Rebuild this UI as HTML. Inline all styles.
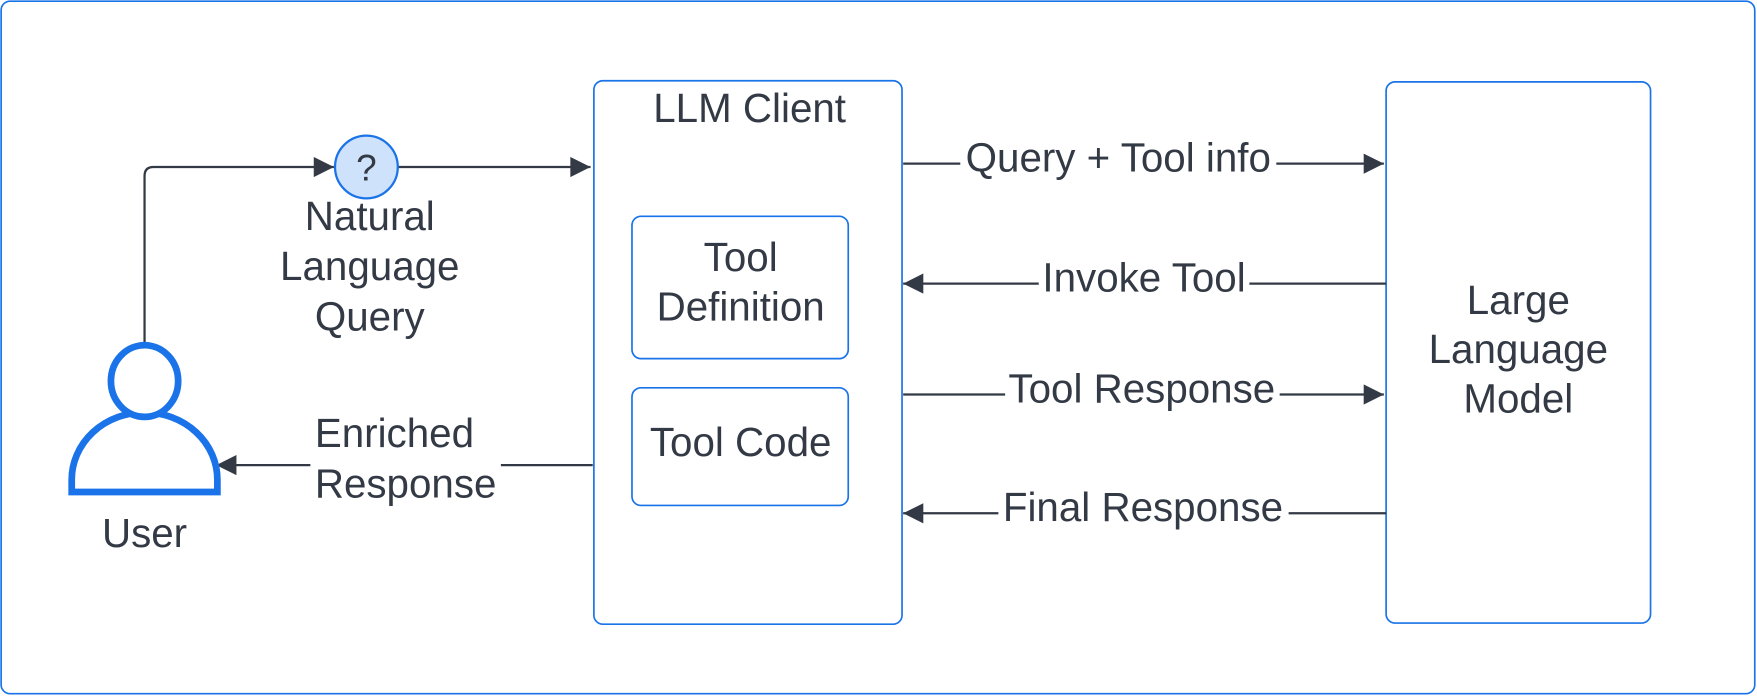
<!DOCTYPE html>
<html><head><style>html,body{margin:0;padding:0;background:#fff}svg{display:block}</style></head>
<body>
<svg width="1757" height="696" viewBox="0 0 1568 621" xmlns="http://www.w3.org/2000/svg" font-family="Liberation Sans, sans-serif" fill="#333a45">
<defs>
<marker id="a" viewBox="0 0 10 10" refX="10" refY="5" markerWidth="28" markerHeight="18" markerUnits="userSpaceOnUse" orient="auto"><path d="M0,0 L10,5 L0,10 Z" fill="#333a45"/></marker>
</defs>
<rect x="1" y="1" width="1565" height="618" rx="8" fill="#fff" stroke="#1a73e8" stroke-width="1.5"/>
<rect x="530" y="72" width="275" height="485" rx="8" fill="#fff" stroke="#1a73e8" stroke-width="1.5"/>
<rect x="564" y="193" width="193" height="127" rx="8" fill="#fff" stroke="#1a73e8" stroke-width="1.5"/>
<rect x="564" y="346" width="193" height="105" rx="8" fill="#fff" stroke="#1a73e8" stroke-width="1.5"/>
<rect x="1237" y="73" width="236" height="483" rx="8" fill="#fff" stroke="#1a73e8" stroke-width="1.5"/>
<g font-size="36" text-anchor="middle">
<text x="669" y="109">LLM Client</text>
<text x="661" y="242">Tool</text>
<text x="661" y="286">Definition</text>
<text x="661" y="407">Tool Code</text>
<text x="1355" y="280">Large</text>
<text x="1355" y="324">Language</text>
<text x="1355" y="368">Model</text>
<text x="330" y="205">Natural</text>
<text x="330" y="250">Language</text>
<text x="330" y="295">Query</text>
<text x="352" y="399">Enriched</text>
<text x="362" y="444">Response</text>
<text x="129" y="488">User</text>
</g>
<g stroke="#333a45" stroke-width="2" fill="none">
<path d="M129,308 V157 Q129,149 137,149 H298" marker-end="url(#a)"/>
<path d="M355,149 H527" marker-end="url(#a)"/>
<path d="M529,415 H447"/>
<path d="M277,415 H193" marker-end="url(#a)"/>
<path d="M806,146 H857 M1139,146 H1235" marker-end="url(#a)"/>
<path d="M1237,253 H1115 M927,253 H806" marker-end="url(#a)"/>
<path d="M806,352 H897 M1142,352 H1235" marker-end="url(#a)"/>
<path d="M1237,458 H1150 M891,458 H806" marker-end="url(#a)"/>
</g>
<g font-size="36" text-anchor="middle">
<text x="998" y="153">Query + Tool info</text>
<text x="1021" y="260">Invoke Tool</text>
<text x="1019" y="359">Tool Response</text>
<text x="1020" y="465">Final Response</text>
</g>
<circle cx="327" cy="149" r="28" fill="#cfe2fb" stroke="#1a73e8" stroke-width="2"/>
<text x="327" y="161" font-size="33" text-anchor="middle">?</text>
<g stroke="#1a73e8" stroke-width="6" fill="#fff">
<path d="M64,439 V428 A65,60 0 0 1 194,428 V439 Z"/>
<ellipse cx="129" cy="340" rx="30" ry="32"/>
</g>
</svg>
</body></html>
